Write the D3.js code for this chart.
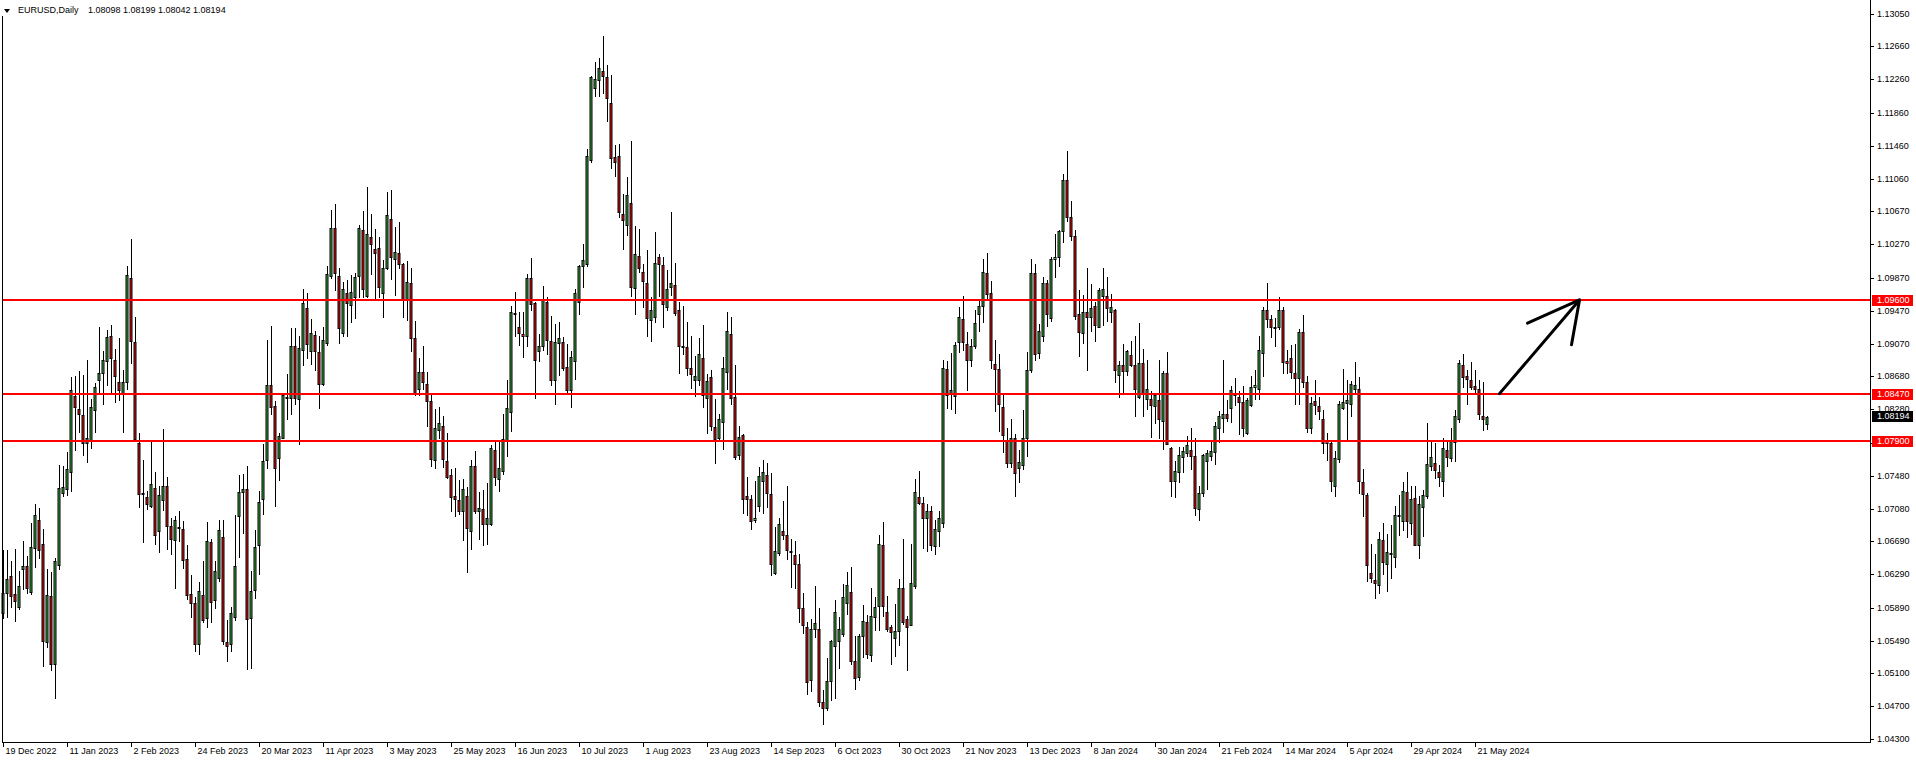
<!DOCTYPE html>
<html><head><meta charset="utf-8">
<script src="https://cdn.jsdelivr.net/npm/d3@7"></script>
<style>
html,body{margin:0;padding:0;background:#fff;overflow:hidden}
svg{display:block}
text{font-family:"Liberation Sans",Arial,sans-serif;font-size:9px}
</style></head><body>
<svg id="c" width="1916" height="763"></svg>
<script>
const symbolName = "EURUSD,Daily";
const lastQuote = "1.08098 1.08199 1.08042 1.08194";
const opens = [
1.0582,1.0606,1.0627,1.0605,1.0590,1.0636,1.0639,1.0608,1.0661,1.0695,
1.0666,1.0547,1.0603,1.0521,1.0640,1.0727,1.0732,1.0752,1.0844,1.0829,
1.0821,1.0788,1.0791,1.0827,1.0864,1.0872,1.0886,1.0916,1.0888,1.0861,
1.0847,1.0861,1.0986,1.0909,1.0788,1.0727,1.0722,1.0712,1.0733,1.0681,
1.0719,1.0736,1.0687,1.0670,1.0686,1.0684,1.0647,1.0605,1.0594,1.0545,
1.0604,1.0576,1.0668,1.0598,1.0625,1.0674,1.0547,1.0545,1.0577,1.0699,
1.0728,1.0732,1.0576,1.0610,1.0665,1.0720,1.0767,1.0857,1.0832,1.0769,
1.0794,1.0843,1.0842,1.0904,1.0840,1.0900,1.0950,1.0898,1.0918,1.0897,
1.0859,1.0908,1.0989,1.1047,1.0989,1.0920,1.0969,1.0954,1.0963,1.0989,
1.1045,1.0965,1.1036,1.1021,1.1023,1.0969,1.0999,1.1058,1.1010,1.1017,
1.1003,1.0960,1.0980,1.0914,1.0852,1.0873,1.0859,1.0838,1.0767,1.0803,
1.0808,1.0766,1.0749,1.0724,1.0719,1.0705,1.0723,1.0681,1.0760,1.0705,
1.0708,1.0690,1.0690,1.0779,1.0744,1.0754,1.0790,1.0825,1.0944,1.0927,
1.0919,1.0916,1.0986,1.0956,1.0899,1.0905,1.0957,1.0911,1.0863,1.0908,
1.0909,1.0879,1.0851,1.0886,1.0958,1.1001,1.1003,1.1129,1.1216,1.1225,
1.1236,1.1229,1.1198,1.1132,1.1134,1.1064,1.1050,1.1077,1.0975,1.1013,
1.0994,1.0981,1.0936,1.0939,1.1012,1.1002,1.0952,1.0976,1.0978,1.0948,
1.0905,1.0903,1.0878,1.0863,1.0864,1.0890,1.0842,1.0867,1.0807,1.0794,
1.0813,1.0873,1.0919,1.0843,1.0773,1.0797,1.0723,1.0720,1.0694,1.0711,
1.0742,1.0749,1.0726,1.0631,1.0655,1.0681,1.0676,1.0657,1.0652,1.0642,
1.0589,1.0565,1.0502,1.0563,1.0563,1.0475,1.0468,1.0500,1.0543,1.0549,
1.0557,1.0594,1.0608,1.0525,1.0505,1.0555,1.0571,1.0532,1.0577,1.0591,
1.0664,1.0584,1.0565,1.0552,1.0561,1.0612,1.0575,1.0568,1.0615,1.0722,
1.0715,1.0697,1.0705,1.0663,1.0681,1.0691,1.0877,1.0847,1.0844,1.0909,
1.0937,1.0907,1.0887,1.0904,1.0943,1.0953,1.0992,1.0969,1.0883,1.0877,
1.0831,1.0791,1.0763,1.0793,1.0757,1.0761,1.0794,1.0876,1.0993,1.0896,
1.0916,1.0980,1.0938,1.1010,1.1012,1.1043,1.1105,1.1060,1.1037,1.0943,
1.0920,1.0945,1.0939,1.0953,1.0928,1.0965,1.0965,1.0946,1.0948,1.0870,
1.0882,1.0874,1.0894,1.0882,1.0843,1.0884,1.0840,1.0841,1.0832,1.0839,
1.0814,1.0872,1.0782,1.0742,1.0753,1.0770,1.0775,1.0779,1.0772,1.0708,
1.0727,1.0766,1.0772,1.0777,1.0806,1.0818,1.0823,1.0830,1.0846,1.0843,
1.0837,1.0800,1.0833,1.0855,1.0853,1.0896,1.0948,1.0937,1.0927,1.0927,
1.0948,1.0886,1.0890,1.0872,1.0866,1.0921,1.0861,1.0805,1.0838,1.0832,
1.0816,1.0790,1.0788,1.0735,1.0768,1.0830,1.0836,1.0835,1.0853,1.0853,
1.0740,1.0725,1.0631,1.0622,1.0616,1.0671,1.0642,1.0655,1.0650,1.0699,
1.0693,1.0728,1.0691,1.0721,1.0665,1.0710,1.0723,1.0760,1.0763,1.0752,
1.0742,1.0779,1.0769,1.0789,1.0816,1.0882,1.0868,1.0864,1.0856,1.0853,
1.0820,1.08098];
const highs = [
1.0658,1.0658,1.0645,1.0659,1.0633,1.0669,1.0651,1.0691,1.0714,1.0709,
1.0684,1.0635,1.0632,1.0649,1.0761,1.0760,1.0776,1.0867,1.0868,1.0874,
1.0870,1.0888,1.0841,1.0860,1.0927,1.0899,1.0924,1.0930,1.0901,1.0914,
1.0876,1.1001,1.1033,1.0940,1.0800,1.0767,1.0730,1.0791,1.0752,1.0735,
1.0804,1.0746,1.0697,1.0699,1.0705,1.0693,1.0664,1.0628,1.0602,1.0620,
1.0645,1.0692,1.0672,1.0645,1.0695,1.0695,1.0574,1.0590,1.0701,1.0749,
1.0750,1.0760,1.0633,1.0682,1.0729,1.0786,1.0912,1.0929,1.0838,1.0799,
1.0848,1.0871,1.0926,1.0926,1.0916,1.0973,1.0969,1.0937,1.0923,1.0917,
1.0928,1.1001,1.1069,1.1076,1.0999,1.0982,1.0984,1.0990,1.0993,1.1050,
1.1067,1.1096,1.1064,1.1046,1.1036,1.1008,1.1090,1.1093,1.1048,1.1054,
1.1005,1.1007,1.0999,1.0935,1.0890,1.0904,1.0873,1.0845,1.0828,1.0831,
1.0820,1.0800,1.0756,1.0757,1.0743,1.0744,1.0734,1.0767,1.0778,1.0728,
1.0731,1.0739,1.0785,1.0789,1.0789,1.0822,1.0863,1.0953,1.0970,1.0946,
1.0946,1.0991,1.1011,1.0958,1.0919,1.0977,1.0963,1.0941,1.0931,1.0934,
1.0915,1.0907,1.0899,1.0973,1.1002,1.1028,1.1142,1.1230,1.1247,1.1252,
1.1279,1.1244,1.1231,1.1147,1.1148,1.1088,1.1108,1.1152,1.1049,1.1046,
1.1003,1.1020,1.0963,1.1042,1.1016,1.1012,1.0996,1.1066,1.1005,1.0958,
1.0953,1.0934,1.0917,1.0892,1.0914,1.0930,1.0871,1.0876,1.0840,1.0822,
1.0891,1.0945,1.0939,1.0882,1.0808,1.0798,1.0747,1.0725,1.0742,1.0758,
1.0767,1.0763,1.0751,1.0686,1.0697,1.0717,1.0735,1.0672,1.0669,1.0653,
1.0606,1.0572,1.0575,1.0615,1.0589,1.0490,1.0528,1.0550,1.0598,1.0577,
1.0617,1.0632,1.0638,1.0555,1.0557,1.0592,1.0580,1.0613,1.0602,1.0676,
1.0692,1.0603,1.0568,1.0593,1.0623,1.0672,1.0579,1.0666,1.0744,1.0754,
1.0722,1.0714,1.0711,1.0694,1.0705,1.0887,1.0886,1.0896,1.0909,1.0951,
1.0965,1.0921,1.0913,1.0948,1.0961,1.1009,1.1017,1.0983,1.0912,1.0895,
1.0847,1.0805,1.0817,1.0798,1.0779,1.0827,1.0897,1.1009,1.1004,1.0931,
1.0988,1.0984,1.1012,1.1040,1.1045,1.1112,1.1140,1.1080,1.1045,1.0972,
1.0966,1.0998,1.0979,1.0958,1.0974,1.0998,1.0988,1.0967,1.0949,1.0886,
1.0907,1.0900,1.0910,1.0917,1.0932,1.0901,1.0887,1.0850,1.0847,1.0888,
1.0874,1.0897,1.0783,1.0766,1.0783,1.0783,1.0796,1.0805,1.0794,1.0735,
1.0774,1.0779,1.0789,1.0813,1.0826,1.0888,1.0839,1.0856,1.0866,1.0850,
1.0856,1.0842,1.0868,1.0876,1.0916,1.0951,1.0981,1.0942,1.0938,1.0963,
1.0951,1.0900,1.0906,1.0907,1.0925,1.0942,1.0868,1.0843,1.0864,1.0843,
1.0827,1.0800,1.0791,1.0778,1.0838,1.0877,1.0864,1.0862,1.0885,1.0867,
1.0756,1.0727,1.0666,1.0654,1.0680,1.0691,1.0678,1.0689,1.0712,1.0725,
1.0740,1.0752,1.0735,1.0735,1.0724,1.0731,1.0812,1.0791,1.0787,1.0761,
1.0793,1.0789,1.0806,1.0827,1.0888,1.0895,1.0876,1.0885,1.0876,1.0864,
1.0861,1.08199];
const lows = [
1.0576,1.0578,1.0590,1.0573,1.0587,1.0611,1.0606,1.0605,1.0638,1.0649,
1.0519,1.0541,1.0514,1.0480,1.0636,1.0723,1.0725,1.0730,1.0779,1.0801,
1.0773,1.0765,1.0782,1.0801,1.0846,1.0835,1.0857,1.0849,1.0837,1.0839,
1.0801,1.0852,1.0884,1.0791,1.0710,1.0668,1.0708,1.0710,1.0666,1.0656,
1.0707,1.0660,1.0654,1.0612,1.0669,1.0637,1.0599,1.0577,1.0537,1.0533,
1.0571,1.0565,1.0571,1.0588,1.0621,1.0545,1.0524,1.0536,1.0574,1.0650,
1.0679,1.0515,1.0516,1.0600,1.0629,1.0702,1.0757,1.0823,1.0711,1.0743,
1.0793,1.0816,1.0822,1.0835,1.0786,1.0881,1.0890,1.0883,1.0875,1.0830,
1.0857,1.0906,1.0987,1.0972,1.0908,1.0916,1.0916,1.0933,1.0938,1.0964,
1.0963,1.0963,1.0991,1.0961,1.0963,1.0940,1.0997,1.0985,1.0966,1.0998,
1.0940,1.0936,1.0899,1.0845,1.0845,1.0852,1.0808,1.0760,1.0757,1.0793,
1.0758,1.0745,1.0705,1.0699,1.0702,1.0670,1.0632,1.0659,1.0703,1.0672,
1.0664,1.0666,1.0689,1.0737,1.0730,1.0750,1.0772,1.0802,1.0916,1.0906,
1.0891,1.0904,1.0948,1.0842,1.0886,1.0900,1.0895,1.0858,1.0834,1.0869,
1.0875,1.0849,1.0831,1.0865,1.0943,1.0976,1.1001,1.1127,1.1206,1.1206,
1.1210,1.1176,1.1119,1.1109,1.1060,1.1021,1.1038,1.0965,1.0943,1.0994,
1.0952,1.0916,1.0911,1.0933,1.0965,1.0928,1.0948,1.0966,1.0942,1.0872,
1.0895,1.0870,1.0854,1.0844,1.0858,1.0831,1.0799,1.0803,1.0763,1.0791,
1.0780,1.0853,1.0834,1.0768,1.0768,1.0703,1.0700,1.0684,1.0692,1.0705,
1.0703,1.0710,1.0628,1.0630,1.0652,1.0672,1.0647,1.0614,1.0612,1.0571,
1.0558,1.0485,1.0488,1.0553,1.0470,1.0448,1.0465,1.0477,1.0480,1.0516,
1.0555,1.0581,1.0521,1.0491,1.0502,1.0529,1.0528,1.0525,1.0562,1.0562,
1.0579,1.0561,1.0521,1.0531,1.0544,1.0569,1.0514,1.0568,1.0612,1.0714,
1.0661,1.0657,1.0658,1.0653,1.0663,1.0686,1.0830,1.0828,1.0824,1.0897,
1.0900,1.0851,1.0880,1.0902,1.0923,1.0933,1.0961,1.0878,1.0826,1.0802,
1.0777,1.0758,1.0759,1.0723,1.0741,1.0756,1.0772,1.0873,1.0888,1.0890,
1.0911,1.0929,1.0935,1.0988,1.1001,1.1030,1.1055,1.1032,1.0937,1.0892,
1.0908,1.0876,1.0922,1.0910,1.0928,1.0930,1.0935,1.0933,1.0861,1.0843,
1.0847,1.0870,1.0880,1.0820,1.0842,1.0820,1.0828,1.0795,1.0811,1.0794,
1.0780,1.0786,1.0723,1.0722,1.0741,1.0752,1.0772,1.0756,1.0700,1.0695,
1.0724,1.0732,1.0767,1.0762,1.0789,1.0801,1.0814,1.0813,1.0833,1.0798,
1.0796,1.0798,1.0832,1.0840,1.0841,1.0868,1.0927,1.0915,1.0905,1.0925,
1.0872,1.0872,1.0866,1.0835,1.0835,1.0855,1.0801,1.0800,1.0823,1.0816,
1.0775,1.0767,1.0730,1.0724,1.0764,1.0829,1.0791,1.0820,1.0847,1.0727,
1.0699,1.0621,1.0620,1.0601,1.0606,1.0629,1.0609,1.0624,1.0638,1.0677,
1.0683,1.0674,1.0678,1.0664,1.0649,1.0675,1.0721,1.0755,1.0745,1.0735,
1.0724,1.0760,1.0766,1.0766,1.0813,1.0855,1.0835,1.0852,1.0847,1.0817,
1.0803,1.08042];
const closes = [
1.0607,1.0623,1.0603,1.0597,1.0615,1.0639,1.0612,1.0662,1.0701,1.0658,
1.0548,1.0604,1.0521,1.0645,1.0733,1.0734,1.0756,1.0851,1.0831,1.0822,
1.0788,1.0794,1.0831,1.0855,1.0872,1.0888,1.0915,1.0890,1.0868,1.0851,
1.0861,1.0990,1.0910,1.0792,1.0726,1.0726,1.0714,1.0738,1.0676,1.0725,
1.0735,1.0687,1.0672,1.0694,1.0685,1.0646,1.0604,1.0594,1.0545,1.0609,
1.0574,1.0669,1.0596,1.0633,1.0682,1.0549,1.0543,1.0582,1.0639,1.0728,
1.0732,1.0575,1.0609,1.0662,1.0716,1.0766,1.0857,1.0831,1.0757,1.0796,
1.0845,1.0842,1.0904,1.0842,1.0902,1.0956,1.0907,1.0920,1.0898,1.0859,
1.0912,1.0991,1.1047,1.0993,1.0926,1.0973,1.0956,1.0970,1.0988,1.1047,
1.0973,1.1039,1.1028,1.1017,1.0976,1.0999,1.1062,1.1012,1.1018,1.1004,
1.0960,1.0982,1.0914,1.0847,1.0873,1.0861,1.0838,1.0768,1.0805,1.0811,
1.0768,1.0747,1.0722,1.0720,1.0706,1.0732,1.0685,1.0760,1.0705,1.0709,
1.0690,1.0697,1.0782,1.0746,1.0757,1.0792,1.0830,1.0945,1.0943,1.0920,
1.0916,1.0986,1.0955,1.0888,1.0905,1.0960,1.0912,1.0863,1.0909,1.0914,
1.0878,1.0851,1.0891,1.0968,1.1001,1.1008,1.1134,1.1229,1.1227,1.1240,
1.1230,1.1204,1.1131,1.1126,1.1066,1.1056,1.1087,1.0976,1.1015,1.0998,
1.0983,1.0938,1.0948,1.1005,1.1003,1.0955,1.0973,1.0980,1.0944,1.0905,
1.0903,1.0878,1.0871,1.0868,1.0895,1.0845,1.0862,1.0808,1.0792,1.0817,
1.0878,1.0923,1.0842,1.0771,1.0795,1.0720,1.0720,1.0693,1.0697,1.0748,
1.0753,1.0727,1.0641,1.0657,1.0690,1.0676,1.0658,1.0656,1.0641,1.0589,
1.0568,1.0499,1.0563,1.0570,1.0475,1.0468,1.0500,1.0548,1.0583,1.0563,
1.0602,1.0616,1.0524,1.0504,1.0555,1.0573,1.0533,1.0579,1.0590,1.0666,
1.0591,1.0563,1.0560,1.0561,1.0612,1.0572,1.0566,1.0618,1.0728,1.0715,
1.0697,1.0706,1.0665,1.0684,1.0697,1.0878,1.0845,1.0851,1.0906,1.0940,
1.0909,1.0887,1.0905,1.0932,1.0953,1.0994,1.0967,1.0887,1.0877,1.0835,
1.0797,1.0763,1.0793,1.0751,1.0764,1.0794,1.0876,1.0992,1.0895,1.0923,
1.0980,1.0943,1.1010,1.1012,1.1043,1.1105,1.1060,1.1037,1.0941,1.0921,
1.0945,1.0940,1.0950,1.0930,1.0972,1.0973,1.0950,1.0951,1.0875,1.0882,
1.0874,1.0898,1.0882,1.0853,1.0884,1.0846,1.0853,1.0833,1.0845,1.0817,
1.0872,1.0786,1.0742,1.0754,1.0773,1.0778,1.0785,1.0772,1.0709,1.0727,
1.0773,1.0775,1.0778,1.0808,1.0820,1.0823,1.0818,1.0851,1.0845,1.0837,
1.0805,1.0839,1.0855,1.0857,1.0900,1.0948,1.0937,1.0927,1.0927,1.0948,
1.0885,1.0884,1.0873,1.0866,1.0921,1.0861,1.0806,1.0836,1.0833,1.0826,
1.0788,1.0788,1.0742,1.0769,1.0835,1.0837,1.0839,1.0859,1.0857,1.0742,
1.0726,1.0640,1.0624,1.0618,1.0672,1.0644,1.0656,1.0653,1.0701,1.0701,
1.0729,1.0693,1.0720,1.0665,1.0714,1.0725,1.0762,1.0771,1.0755,1.0747,
1.0781,1.0770,1.0790,1.0820,1.0884,1.0867,1.0865,1.0855,1.0853,1.0822,
1.0816,1.08194];
const levels = [1.0960, 1.0847, 1.0790];
const levelLabels = ["1.09600", "1.08470", "1.07900"];
const currentPrice = 1.08194;
const currentLabel = "1.08194";
const yTickLabels = ["1.13050","1.12660","1.12260","1.11860","1.11460","1.11060","1.10670","1.10270","1.09870","1.09470","1.09070","1.08680","1.08280","1.07880","1.07480","1.07080","1.06690","1.06290","1.05890","1.05490","1.05100","1.04700","1.04300"];
const xTickLabels = ["19 Dec 2022","11 Jan 2023","2 Feb 2023","24 Feb 2023","20 Mar 2023","11 Apr 2023","3 May 2023","25 May 2023","16 Jun 2023","10 Jul 2023","1 Aug 2023","23 Aug 2023","14 Sep 2023","6 Oct 2023","30 Oct 2023","21 Nov 2023","13 Dec 2023","8 Jan 2024","30 Jan 2024","21 Feb 2024","14 Mar 2024","5 Apr 2024","29 Apr 2024","21 May 2024"];
const barsPerLabel = 16;
// arrow drawn on the chart, in (bar index, price)
const arrowShaft = [[374, 1.0847], [394, 1.0960]];
const arrowHead = [[381, 1.0932], [394, 1.0960], [392, 1.0906]];

const W = 1916, H = 763;
const plotLeft = 2, plotRight = 1870, plotBottom = 742;
const svg = d3.select("#c");
const x = d3.scaleLinear().domain([0, 467]).range([3.5, 1871.5]);
const y = d3.scaleLinear().domain([1.043, 1.1305]).range([739.3, 14]);
const UP = "#3aa83a", DOWN = "#e01010";

const data = opens.map((o, i) => ({i, o, h: highs[i], l: lows[i], c: closes[i]}));

const g = svg.append("g");
// wicks
g.selectAll("line.w").data(data).join("line")
  .attr("x1", d => Math.round(x(d.i) - 0.5) + 0.5)
  .attr("x2", d => Math.round(x(d.i) - 0.5) + 0.5)
  .attr("y1", d => Math.round(y(d.h)))
  .attr("y2", d => Math.round(y(d.l)) + 1)
  .attr("stroke", "#000").attr("stroke-width", 1);
// bodies
g.selectAll("rect.b").data(data).join("rect")
  .attr("x", d => Math.round(x(d.i) - 0.5) - 1)
  .attr("y", d => Math.round(y(Math.max(d.o, d.c))) + 0.5)
  .attr("width", 2)
  .attr("height", d => Math.max(1, Math.round(y(Math.min(d.o, d.c))) - Math.round(y(Math.max(d.o, d.c)))))
  .attr("fill", d => d.c >= d.o ? UP : DOWN)
  .attr("stroke", "#000").attr("stroke-width", 1);

// horizontal levels
svg.selectAll("line.lv").data(levels).join("line")
  .attr("x1", plotLeft).attr("x2", plotRight)
  .attr("y1", d => Math.round(y(d))).attr("y2", d => Math.round(y(d)))
  .attr("stroke", "#ff0000").attr("stroke-width", 2);

// arrow
const line = d3.line().x(d => x(d[0])).y(d => y(d[1]));
svg.append("path").attr("d", line(arrowShaft)).attr("fill", "none")
  .attr("stroke", "#000").attr("stroke-width", 3).attr("stroke-linecap", "round");
svg.append("path").attr("d", line(arrowHead)).attr("fill", "none")
  .attr("stroke", "#000").attr("stroke-width", 3).attr("stroke-linecap", "round").attr("stroke-linejoin", "round");

// frame
svg.append("rect").attr("x", 0).attr("y", 0).attr("width", 260).attr("height", 16).attr("fill", "#fff");
svg.append("line").attr("x1", plotLeft + 0.5).attr("x2", plotLeft + 0.5).attr("y1", 16).attr("y2", plotBottom + 1).attr("stroke", "#000");
svg.append("line").attr("x1", plotRight + 0.5).attr("x2", plotRight + 0.5).attr("y1", 0).attr("y2", plotBottom + 1).attr("stroke", "#000");
svg.append("line").attr("x1", plotLeft).attr("x2", plotRight + 1).attr("y1", plotBottom + 0.5).attr("y2", plotBottom + 0.5).attr("stroke", "#000");

// y axis ticks and labels
const yt = svg.append("g");
yTickLabels.forEach(t => {
  const yy = Math.round(y(+t));
  yt.append("line").attr("x1", plotRight + 1).attr("x2", plotRight + 4).attr("y1", yy + 0.5).attr("y2", yy + 0.5).attr("stroke", "#000");
  yt.append("text").attr("x", plotRight + 7).attr("y", yy).attr("dy", "0.35em").attr("fill", "#000").text(t);
});

// x axis ticks and labels
xTickLabels.forEach((t, k) => {
  const xx = Math.round(x(k * barsPerLabel) - 0.5) + 0.5;
  svg.append("line").attr("x1", xx).attr("x2", xx).attr("y1", plotBottom + 1).attr("y2", plotBottom + 5).attr("stroke", "#000");
  svg.append("text").attr("x", xx + 2).attr("y", plotBottom + 12).attr("fill", "#000").text(t);
});

// level labels
levels.forEach((lv, k) => {
  const yy = Math.round(y(lv));
  svg.append("rect").attr("x", plotRight + 2).attr("y", yy - 5).attr("width", 41).attr("height", 11).attr("fill", "#ff0000");
  svg.append("text").attr("x", plotRight + 7).attr("y", yy).attr("dy", "0.38em").attr("fill", "#fff").text(levelLabels[k]);
});
{
  const yy = Math.round(y(currentPrice));
  svg.append("rect").attr("x", plotRight + 2).attr("y", yy - 6).attr("width", 41).attr("height", 11).attr("fill", "#000");
  svg.append("text").attr("x", plotRight + 7).attr("y", yy - 1).attr("dy", "0.38em").attr("fill", "#fff").text(currentLabel);
}

// title
svg.append("path").attr("d", "M4,9 L10,9 L7,13 Z").attr("fill", "#000");
svg.append("text").attr("x", 18).attr("y", 13).attr("fill", "#000").text(symbolName);
svg.append("text").attr("x", 88).attr("y", 13).attr("fill", "#000").text(lastQuote);
</script>
</body></html>
